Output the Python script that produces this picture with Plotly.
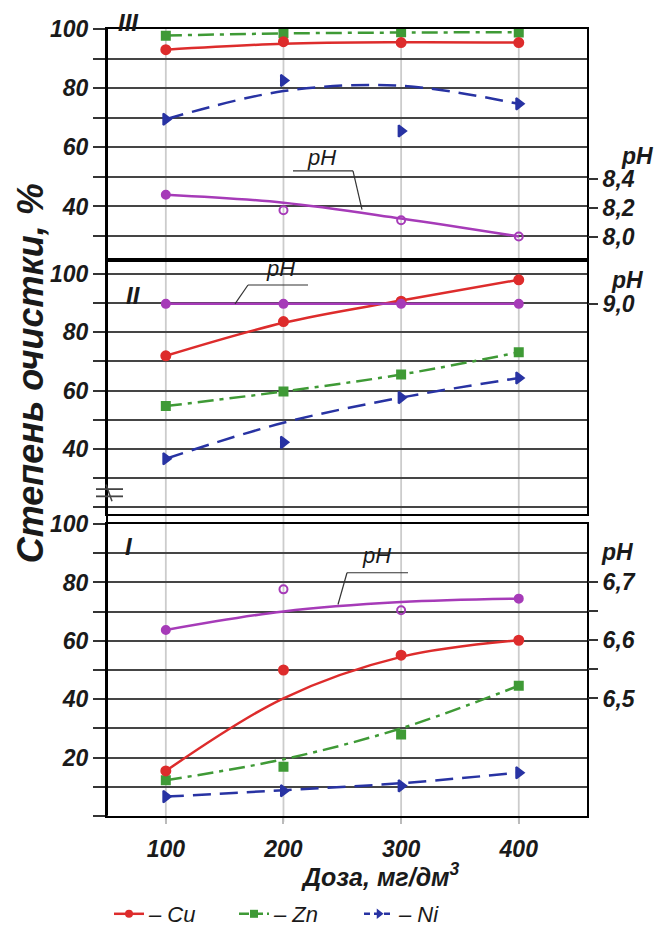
import plotly.graph_objects as go

# ---------------- data ----------------
dose = [100, 200, 300, 400]
x_ticks = [100, 200, 300, 400]

# Panel III (measured points and fitted trend at each dose)
cu_III = [93.0, 95.7, 95.4, 95.4]
cu_III_fit = [93.0, 95.0, 95.5, 95.4]
zn_III = [97.7, 98.6, 98.9, 98.8]
zn_III_fit = [97.8, 98.5, 98.8, 98.9]
ni_III = [69.5, 82.6, 65.5, 74.7]
ni_III_fit = [69.5, 79.0, 80.8, 74.7]
ph_III = [8.293, 8.185, 8.116, 8.003]
ph_III_fit = [8.293, 8.238, 8.128, 8.003]
ph_III_open = [False, True, True, True]

# Panel II
cu_II = [71.9, 83.6, 90.6, 97.9]
cu_II_fit = [71.9, 83.2, 90.8, 97.9]
zn_II = [54.7, 59.7, 65.5, 73.1]
zn_II_fit = [54.7, 59.7, 65.5, 73.1]
ni_II = [36.7, 42.3, 57.6, 64.3]
ni_II_fit = [36.7, 49.0, 57.6, 64.3]
ph_II = [9.0, 9.0, 9.0, 9.0]
ph_II_fit = [9.0, 9.0, 9.0, 9.0]
ph_II_open = [False, False, False, False]

# Panel I
cu_I = [15.4, 50.0, 55.1, 60.2]
cu_I_fit = [15.4, 40.3, 54.5, 60.2]
zn_I = [12.2, 16.8, 27.9, 44.6]
zn_I_fit = [12.2, 19.4, 30.0, 44.6]
ni_I = [6.6, 8.6, 10.3, 14.8]
ni_I_fit = [6.6, 8.8, 11.2, 14.8]
ph_I = [6.618, 6.688, 6.652, 6.672]
ph_I_fit = [6.618, 6.650, 6.666, 6.672]
ph_I_open = [False, True, True, False]

# axis ticks (labelled / unlabelled)
left_major_III = [40, 60, 80, 100]
left_minor_III = [30, 50, 70, 90]
left_major_II = [40, 60, 80, 100]
left_minor_II = [20, 30, 50, 70, 90]
left_major_I = [20, 40, 60, 80, 100]
left_minor_I = [0, 10, 30, 50, 70, 90]
ph_ticks_III = [8.0, 8.2, 8.4]
ph_labels_III = ["8,0", "8,2", "8,4"]
ph_ticks_II = [9.0]
ph_labels_II = ["9,0"]
ph_ticks_I = [6.5, 6.6, 6.7]
ph_labels_I = ["6,5", "6,6", "6,7"]
ph_minor_I = [6.55, 6.65]

y_title = "Степень очистки, %"
x_title = "Доза, мг/дм<sup>3</sup>"
series_names = ["– Cu", "– Zn", "– Ni"]

# ---------------- styling ----------------
RED = "#dd2c2c"
GREEN = "#3f9a36"
BLUE = "#2833a3"
PURPLE = "#a63bb8"
FONT = "Liberation Sans, Arial, sans-serif"

FIG_W, FIG_H = 660, 935
L, R, T = 107, 587, 29
B = FIG_H                    # plot area reaches the bottom of the figure
W, H = R - L, B - T


def px(x):
    return (x - L) / W


def py(y):
    return (B - y) / H


dom_III = [py(260), 1.0]
dom_II = [py(518), py(263.5)]
dom_I = [py(822), py(528)]

fig = go.Figure()


def add_series(xa, ya, meas, fit, color, dash, symbol, size, open_flags=None):
    fig.add_trace(go.Scatter(
        x=dose, y=fit, mode="lines", xaxis=xa, yaxis=ya, showlegend=False,
        line=dict(color=color, width=2.5, dash=dash, shape="spline", smoothing=1.0),
        hoverinfo="skip"))
    if open_flags is not None:
        sym = [symbol + "-open" if o else symbol for o in open_flags]
    else:
        sym = symbol
    fig.add_trace(go.Scatter(
        x=dose, y=meas, mode="markers", xaxis=xa, yaxis=ya, showlegend=False,
        marker=dict(symbol=sym, size=size, color=color, line=dict(color=color, width=2))))


ZN_DASH = "16px,6px,4px,6px"
NI_DASH = "18px,9px"

# Panel III : x / y (left), y2 (pH)
add_series("x", "y2", ph_III, ph_III_fit, PURPLE, "solid", "circle", 8, ph_III_open)
add_series("x", "y", zn_III, zn_III_fit, GREEN, ZN_DASH, "square", 8)
add_series("x", "y", cu_III, cu_III_fit, RED, "solid", "circle", 9)
add_series("x", "y", ni_III, ni_III_fit, BLUE, NI_DASH, "triangle-right", 10)

# Panel II : x2 / y3 (left), y4 (pH)
add_series("x2", "y3", zn_II, zn_II_fit, GREEN, ZN_DASH, "square", 8)
add_series("x2", "y3", cu_II, cu_II_fit, RED, "solid", "circle", 9)
add_series("x2", "y3", ni_II, ni_II_fit, BLUE, NI_DASH, "triangle-right", 10)
add_series("x2", "y4", ph_II, ph_II_fit, PURPLE, "solid", "circle", 8, ph_II_open)

# Panel I : x3 / y5 (left), y6 (pH)
add_series("x3", "y6", ph_I, ph_I_fit, PURPLE, "solid", "circle", 8, ph_I_open)
add_series("x3", "y5", zn_I, zn_I_fit, GREEN, ZN_DASH, "square", 8)
add_series("x3", "y5", cu_I, cu_I_fit, RED, "solid", "circle", 9)
add_series("x3", "y5", ni_I, ni_I_fit, BLUE, NI_DASH, "triangle-right", 10)

# legend entries
for name, color, dash, sym, sz in zip(series_names, [RED, GREEN, BLUE],
                                      ["solid", "10px,4px", "6px,4px"],
                                      ["circle", "square", "triangle-right"], [8, 8, 9]):
    fig.add_trace(go.Scatter(x=[None], y=[None], mode="lines+markers", name=name,
                             xaxis="x3", yaxis="y5",
                             line=dict(color=color, width=2.5, dash=dash),
                             marker=dict(symbol=sym, size=sz, color=color)))

tick_font = dict(family=FONT, size=23, color="#1a1a1a", weight="bold", style="italic")
GRID = "#454545"


def xax(anchor, show_labels):
    d = dict(domain=[0, 1], range=[50, 458], anchor=anchor, automargin=False,
             showline=True, linecolor="black", linewidth=2, mirror=True,
             showgrid=False, zeroline=False, tickmode="array", tickvals=x_ticks,
             showticklabels=show_labels)
    if show_labels:
        d.update(ticks="outside", ticklen=6, tickcolor="#bbbbbb", tickwidth=1.5,
                 tickfont=tick_font, ticklabelstandoff=6)
    else:
        d.update(ticks="")
    return d


def yleft(domain, rng, major, minor, xa):
    return dict(domain=domain, range=rng, anchor=xa, automargin=False,
                tickmode="array", tickvals=major, ticktext=[str(v) for v in major],
                showline=True, linecolor="black", linewidth=2, mirror=True,
                ticks="outside", ticklen=12, tickwidth=2, tickcolor="#333333",
                showgrid=True, gridcolor=GRID, gridwidth=1.8, zeroline=False,
                minor=dict(tickmode="array", tickvals=minor, ticks="outside", ticklen=12,
                           tickwidth=2, tickcolor="#333333", showgrid=True,
                           gridcolor=GRID, gridwidth=1.8),
                tickfont=tick_font)


def yright(rng, tickv, tickt, overl, xa, minor=None):
    d = dict(range=rng, overlaying=overl, side="right", anchor=xa, automargin=False,
             tickmode="array", tickvals=tickv, ticktext=tickt, showgrid=False,
             zeroline=False, showline=False, ticks="outside", ticklen=10, tickwidth=2,
             tickcolor="#333333", tickfont=tick_font)
    if minor:
        d["minor"] = dict(tickmode="array", tickvals=minor, ticks="outside", ticklen=10,
                          tickwidth=2, tickcolor="#333333", showgrid=False)
    return d


fig.update_layout(
    template="none",
    width=FIG_W, height=FIG_H,
    margin=dict(l=L, r=FIG_W - R, t=T, b=FIG_H - B, pad=0),
    paper_bgcolor="white", plot_bgcolor="rgba(0,0,0,0)",
    font=dict(family=FONT, color="#1a1a1a"),
    xaxis=xax("y", False),
    xaxis2=xax("y3", False),
    xaxis3=xax("y5", True),
    yaxis=yleft(dom_III, [22.5, 100], left_major_III, left_minor_III, "x"),
    yaxis2=yright([7.852, 9.445], ph_ticks_III, ph_labels_III, "y", "x"),
    yaxis3=yleft(dom_II, [17.7, 104.1], left_major_II, left_minor_II, "x2"),
    yaxis4=yright([7.563, 9.288], ph_ticks_II, ph_labels_II, "y3", "x2"),
    yaxis5=yleft(dom_I, [0, 100], left_major_I, left_minor_I, "x3"),
    yaxis6=yright([6.2978, 6.8003], ph_ticks_I, ph_labels_I, "y5", "x3", ph_minor_I),
    showlegend=True,
    legend=dict(orientation="h", x=px(109), xanchor="left", y=py(921), yanchor="middle",
                entrywidth=80, entrywidthmode="pixels",
                font=dict(family=FONT, size=22, style="italic", color="#1a1a1a"),
                bgcolor="rgba(0,0,0,0)", traceorder="normal"),
)

shapes = []
# light vertical grid lines spanning all panels
for xv in x_ticks:
    shapes.append(dict(type="line", xref="x", yref="paper", x0=xv, x1=xv,
                       y0=py(828), y1=1.0, line=dict(color="#cccccc", width=1.8),
                       layer="below"))
# continuous left axis line
shapes.append(dict(type="line", xref="paper", yref="paper", x0=0, x1=0,
                   y0=py(822), y1=1, line=dict(color="black", width=2)))
# axis break symbol
for yy in (492.7, 500):
    shapes.append(dict(type="line", xref="paper", yref="paper", x0=px(96), x1=px(123),
                       y0=py(yy), y1=py(yy), line=dict(color="#444444", width=1.8)))
shapes.append(dict(type="line", xref="paper", yref="paper", x0=px(106), x1=px(112),
                   y0=py(488), y1=py(505), line=dict(color="#444444", width=1.5)))
# pH leader lines
leaders = [
    [(293, 172), (353, 172), (362, 211)],
    [(308, 287), (248, 287), (235, 306)],
    [(408, 577), (347, 577), (338, 609)],
]
for pts in leaders:
    for (xa0, ya0), (xa1, ya1) in zip(pts[:-1], pts[1:]):
        shapes.append(dict(type="line", xref="paper", yref="paper",
                           x0=px(xa0), x1=px(xa1), y0=py(ya0), y1=py(ya1),
                           line=dict(color="#333333", width=1.2)))
fig.update_layout(shapes=shapes)

bi = dict(family=FONT, color="#1a1a1a", weight="bold", style="italic")
it = dict(family=FONT, color="#1a1a1a", style="italic")
ann = []


def add_ann(text, x, y, font, size, xanchor="center", angle=0):
    ann.append(dict(text=text, x=px(x), y=py(y), xref="paper", yref="paper",
                    showarrow=False, xanchor=xanchor, yanchor="middle",
                    textangle=angle, font=dict(size=size, **font)))


add_ann(y_title, 30, 376, bi, 36, angle=-90)
add_ann(x_title, 462, 882, bi, 25, xanchor="right")
add_ann("III", 128, 22, bi, 24)
add_ann("II", 133, 298, bi, 24)
add_ann("I", 129, 551, bi, 24)
add_ann("pH", 321, 158, it, 22)
add_ann("pH", 280, 270, it, 22)
add_ann("pH", 376, 560, it, 22)
add_ann("pH", 637, 157, bi, 23)
add_ann("pH", 627, 282, bi, 23)
add_ann("pH", 617, 556, bi, 23)
fig.update_layout(annotations=ann)

# remove the browser's default page margin so the figure fills the 660x935 window exactly
fig.write_html("out.html",
               config={"displayModeBar": False},
               post_script="document.body.style.margin='0px';"
                           "document.body.style.overflow='hidden';")
